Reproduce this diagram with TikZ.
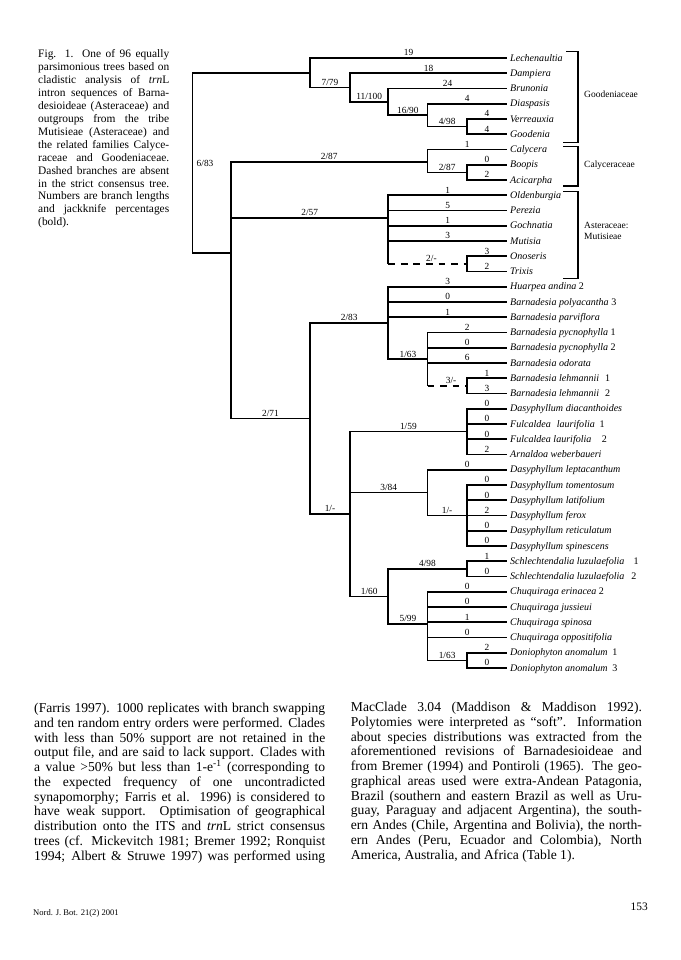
\documentclass[tikz,border=0pt]{standalone}
\usepackage{fontspec}
\setmainfont{Liberation Serif}
\newcommand\leaffont{\fontsize{8.8}{10}\selectfont\itshape}
\newcommand\numfont{\fontsize{8.2}{9}\selectfont}
\newcommand\grpfont{\fontsize{8.3}{9}\selectfont}
\newcommand\capfont{\fontsize{10}{11}\selectfont}
\newcommand\bodyfont{\fontsize{11.9}{13}\selectfont}
\tikzset{
 br/.style={line width=1.55pt},
 brk/.style={line width=1.1pt},
 leaf/.style={anchor=west, inner xsep=2.6pt, inner ysep=0pt, text height=5.6pt, text depth=0pt, font=\leaffont},
 lbl/.style={above, inner sep=1pt, font=\numfont},
 grp/.style={anchor=west, inner sep=0pt, font=\grpfont},
 captxt/.style={anchor=base west, inner sep=0pt, font=\capfont},
 bodytxt/.style={anchor=base west, inner sep=0pt, font=\bodyfont},
 dsh/.style={br, dash pattern=on 6pt off 5pt},
}
\begin{document}
\begin{tikzpicture}[x=0.8755pt,y=-0.8755pt]
\fill[white] (0,0) rectangle (680,960);
\useasboundingbox (0,0) rectangle (680,960);

% ---------- caption ----------
\node[captxt] (c1) at (38,58) {\makebox[114.7pt][s]{Fig. 1. One of 96 equally}};
\node[captxt] (c2) at (38,70.9) {\makebox[114.7pt][s]{parsimonious trees based on}};
\node[captxt] (c3) at (38,83.8) {\makebox[114.7pt][s]{cladistic analysis of \textit{trn}L}};
\node[captxt] (c4) at (38,96.7) {\makebox[114.7pt][s]{intron sequences of Barna-}};
\node[captxt] (c5) at (38,109.6) {\makebox[114.7pt][s]{desioideae (Asteraceae) and}};
\node[captxt] (c6) at (38,122.5) {\makebox[114.7pt][s]{outgroups from the tribe}};
\node[captxt] (c7) at (38,135.4) {\makebox[114.7pt][s]{Mutisieae (Asteraceae) and}};
\node[captxt] (c8) at (38,148.3) {\makebox[114.7pt][s]{the related families Calyce-}};
\node[captxt] (c9) at (38,161.2) {\makebox[114.7pt][s]{raceae and Goodeniaceae.}};
\node[captxt] (c10) at (38,174.1) {\makebox[114.7pt][s]{Dashed branches are absent}};
\node[captxt] (c11) at (38,187) {\makebox[114.7pt][s]{in the strict consensus tree.}};
\node[captxt] (c12) at (38,199.9) {\makebox[114.7pt][s]{Numbers are branch lengths}};
\node[captxt] (c13) at (38,212.8) {\makebox[114.7pt][s]{and jackknife percentages}};
\node[captxt] (c14) at (38,225.7) {(bold).};

% ---------- leaves ----------
\node[leaf] (t0) at (507,58) {Lechenaultia};
\node[leaf] (t1) at (507,73.25) {Dampiera};
\node[leaf] (t2) at (507,88.5) {Brunonia};
\node[leaf] (t3) at (507,103.75) {Diaspasis};
\node[leaf] (t4) at (507,119) {Verreauxia};
\node[leaf] (t5) at (507,134.25) {Goodenia};
\node[leaf] (t6) at (507,149.5) {Calycera};
\node[leaf] (t7) at (507,164.75) {Boopis};
\node[leaf] (t8) at (507,180) {Acicarpha};
\node[leaf] (t9) at (507,195.25) {Oldenburgia};
\node[leaf] (t10) at (507,210.5) {Perezia};
\node[leaf] (t11) at (507,225.75) {Gochnatia};
\node[leaf] (t12) at (507,241) {Mutisia};
\node[leaf] (t13) at (507,256.25) {Onoseris};
\node[leaf] (t14) at (507,271.5) {Trixis};
\node[leaf] (t15) at (507,286.75) {Huarpea andina {\upshape 2}};
\node[leaf] (t16) at (507,302) {Barnadesia polyacantha {\upshape 3}};
\node[leaf] (t17) at (507,317.25) {Barnadesia parviflora};
\node[leaf] (t18) at (507,332.5) {Barnadesia pycnophylla {\upshape 1}};
\node[leaf] (t19) at (507,347.75) {Barnadesia pycnophylla {\upshape 2}};
\node[leaf] (t20) at (507,363) {Barnadesia odorata};
\node[leaf] (t21) at (507,378.25) {Barnadesia lehmannii\hspace{3pt} {\upshape 1}};
\node[leaf] (t22) at (507,393.5) {Barnadesia lehmannii\hspace{3pt} {\upshape 2}};
\node[leaf] (t23) at (507,408.75) {Dasyphyllum diacanthoides};
\node[leaf] (t24) at (507,424) {Fulcaldea\hspace{3pt} laurifolia\hspace{2pt} {\upshape 1}};
\node[leaf] (t25) at (507,439.25) {Fulcaldea laurifolia\hspace{7pt} {\upshape 2}};
\node[leaf] (t26) at (507,454.5) {Arnaldoa weberbaueri};
\node[leaf] (t27) at (507,469.75) {Dasyphyllum leptacanthum};
\node[leaf] (t28) at (507,485) {Dasyphyllum tomentosum};
\node[leaf] (t29) at (507,500.25) {Dasyphyllum latifolium};
\node[leaf] (t30) at (507,515.5) {Dasyphyllum ferox};
\node[leaf] (t31) at (507,530.75) {Dasyphyllum reticulatum};
\node[leaf] (t32) at (507,546) {Dasyphyllum spinescens};
\node[leaf] (t33) at (507,561.25) {Schlechtendalia luzulaefolia\hspace{6pt} {\upshape 1}};
\node[leaf] (t34) at (507,576.5) {Schlechtendalia luzulaefolia\hspace{4pt} {\upshape 2}};
\node[leaf] (t35) at (507,591.75) {Chuquiraga erinacea {\upshape 2}};
\node[leaf] (t36) at (507,607) {Chuquiraga jussieui};
\node[leaf] (t37) at (507,622.25) {Chuquiraga spinosa};
\node[leaf] (t38) at (507,637.5) {Chuquiraga oppositifolia};
\node[leaf] (t39) at (507,652.75) {Doniophyton anomalum\hspace{2pt} {\upshape 1}};
\node[leaf] (t40) at (507,668) {Doniophyton anomalum\hspace{2pt} {\upshape 3}};

% ---------- internal nodes ----------
\coordinate (R) at (192.5,163);
\coordinate (G1) at (310,72.8);
\coordinate (G2) at (350,87.6);
\coordinate (G3) at (388.3,101.9);
\coordinate (G4) at (427.5,115.2);
\coordinate (G5) at (466.7,126.6);
\coordinate (A) at (231,253.3);
\coordinate (C1) at (427.5,162);
\coordinate (C2) at (466.7,172.4);
\coordinate (M1) at (388.3,218.1);
\coordinate (M2) at (466.7,263.9);
\coordinate (B1) at (310,418.5);
\coordinate (B2) at (388.3,323);
\coordinate (B4) at (427.5,359.2);
\coordinate (B5) at (466.7,385.9);
\coordinate (B3) at (350,514);
\coordinate (B6) at (466.7,431.6);
\coordinate (B7) at (427.5,492.6);
\coordinate (B9) at (466.7,515.5);
\coordinate (B8) at (388.3,596.5);
\coordinate (B10) at (466.7,568.9);
\coordinate (B11) at (427.5,624);
\coordinate (B12) at (466.7,660.4);

\node[inner sep=0pt, anchor=west, font=\numfont] (lR) at ([xshift=3.5pt]R) {6/83};

% ---------- branches ----------
\draw[br] (R) |- (G1);
\draw[br] (R) |- (A);
\draw[br] (G1) |- node[lbl,pos=.75]{19} (t0.west);
\draw[br] (G1) |- node[lbl,pos=.75]{7/79} (G2);
\draw[br] (G2) |- node[lbl,pos=.75]{18} (t1.west);
\draw[br] (G2) |- node[lbl,pos=.75]{11/100} (G3);
\draw[br] (G3) |- node[lbl,pos=.75]{24} (t2.west);
\draw[br] (G3) |- node[lbl,pos=.75]{16/90} (G4);
\draw[br] (G4) |- node[lbl,pos=.75]{4} (t3.west);
\draw[br] (G4) |- node[lbl,pos=.75]{4/98} (G5);
\draw[br] (G5) |- node[lbl,pos=.75]{4} (t4.west);
\draw[br] (G5) |- node[lbl,pos=.75]{4} (t5.west);

\draw[br] (A) |- node[lbl,pos=.75]{2/87} (C1);
\draw[br] (A) |- node[lbl,pos=.75]{2/57} (M1);
\draw[br] (A) |- node[lbl,pos=.75]{2/71} (B1);
\draw[br] (C1) |- node[lbl,pos=.75]{1} (t6.west);
\draw[br] (C1) |- node[lbl,pos=.75]{2/87} (C2);
\draw[br] (C2) |- node[lbl,pos=.75]{0} (t7.west);
\draw[br] (C2) |- node[lbl,pos=.75]{2} (t8.west);

\draw[br] (M1) |- node[lbl,pos=.75]{1} (t9.west);
\draw[br] (M1) |- node[lbl,pos=.75]{5} (t10.west);
\draw[br] (M1) |- node[lbl,pos=.75]{1} (t11.west);
\draw[br] (M1) |- node[lbl,pos=.75]{3} (t12.west);
\draw[br] (M1) -- (M1 |- M2);
\draw[dsh] (M1 |- M2) -- node[lbl,pos=.55]{2/-} (M2);
\draw[br] (M2) |- node[lbl,pos=.75]{3} (t13.west);
\draw[br] (M2) |- node[lbl,pos=.75]{2} (t14.west);

\draw[br] (B1) |- node[lbl,pos=.75]{2/83} (B2);
\draw[br] (B1) |- node[lbl,pos=.75]{1/-} (B3);
\draw[br] (B2) |- node[lbl,pos=.75]{3} (t15.west);
\draw[br] (B2) |- node[lbl,pos=.75]{0} (t16.west);
\draw[br] (B2) |- node[lbl,pos=.75]{1} (t17.west);
\draw[br] (B2) |- node[lbl,pos=.75]{1/63} (B4);
\draw[br] (B4) |- node[lbl,pos=.75]{2} (t18.west);
\draw[br] (B4) |- node[lbl,pos=.75]{0} (t19.west);
\draw[br] (B4) |- node[lbl,pos=.75]{6} (t20.west);
\draw[br] (B4) -- (B4 |- B5);
\draw[dsh] (B4 |- B5) -- node[lbl,pos=.6]{3/-} (B5);
\draw[br] (B5) |- node[lbl,pos=.75]{1} (t21.west);
\draw[br] (B5) |- node[lbl,pos=.75]{3} (t22.west);

\draw[br] (B3) |- node[lbl,pos=.75]{1/59} (B6);
\draw[br] (B3) |- node[lbl,pos=.75]{3/84} (B7);
\draw[br] (B3) |- node[lbl,pos=.75]{1/60} (B8);
\draw[br] (B6) |- node[lbl,pos=.75]{0} (t23.west);
\draw[br] (B6) |- node[lbl,pos=.75]{0} (t24.west);
\draw[br] (B6) |- node[lbl,pos=.75]{0} (t25.west);
\draw[br] (B6) |- node[lbl,pos=.75]{2} (t26.west);
\draw[br] (B7) |- node[lbl,pos=.75]{0} (t27.west);
\draw[br] (B7) |- node[lbl,pos=.75]{1/-} (B9);
\draw[br] (B9) |- node[lbl,pos=.75]{0} (t28.west);
\draw[br] (B9) |- node[lbl,pos=.75]{0} (t29.west);
\draw[br] (B9) |- node[lbl,pos=.75]{2} (t30.west);
\draw[br] (B9) |- node[lbl,pos=.75]{0} (t31.west);
\draw[br] (B9) |- node[lbl,pos=.75]{0} (t32.west);
\draw[br] (B8) |- node[lbl,pos=.75]{4/98} (B10);
\draw[br] (B8) |- node[lbl,pos=.75]{5/99} (B11);
\draw[br] (B10) |- node[lbl,pos=.75]{1} (t33.west);
\draw[br] (B10) |- node[lbl,pos=.75]{0} (t34.west);
\draw[br] (B11) |- node[lbl,pos=.75]{0} (t35.west);
\draw[br] (B11) |- node[lbl,pos=.75]{0} (t36.west);
\draw[br] (B11) |- node[lbl,pos=.75]{1} (t37.west);
\draw[br] (B11) |- node[lbl,pos=.75]{0} (t38.west);
\draw[br] (B11) |- node[lbl,pos=.75]{1/63} (B12);
\draw[br] (B12) |- node[lbl,pos=.75]{2} (t39.west);
\draw[br] (B12) |- node[lbl,pos=.75]{0} (t40.west);

% ---------- group brackets ----------
\coordinate (gA) at (566,51.7); \coordinate (gB) at (578,142.5); \coordinate (gC) at (563,142.5);
\draw[brk] (gA) -| (gB) -- (gC);
\coordinate (kA) at (563,146.5); \coordinate (kB) at (578,186); \coordinate (kC) at (563,186);
\draw[brk] (kA) -| (kB) -- (kC);
\coordinate (aA) at (563,191.7); \coordinate (aB) at (578,278.3); \coordinate (aC) at (563,278.3);
\draw[brk] (aA) -| (aB) -- (aC);
\node[grp] (goo) at (584,94.3) {Goodeniaceae};
\node[grp] (caly) at (584,165.7) {Calyceraceae};
\node[grp] (ast) at (584,225) {Asteraceae:};
\node[grp] (mut) at (584,236.7) {Mutisieae};

% ---------- body text, left ----------
\node[bodytxt] (l1) at (34,712.5) {\makebox[254.8pt][s]{(Farris 1997). 1000 replicates with branch swapping}};
\node[bodytxt] (l2) at (34,727.25) {\makebox[254.8pt][s]{and ten random entry orders were performed. Clades}};
\node[bodytxt] (l3) at (34,742) {\makebox[254.8pt][s]{with less than 50\% support are not retained in the}};
\node[bodytxt] (l4) at (34,756.75) {\makebox[254.8pt][s]{output file, and are said to lack support. Clades with}};
\node[bodytxt] (l5) at (34,771.5) {\makebox[254.8pt][s]{a value >50\% but less than 1-e\textsuperscript{-1} (corresponding to}};
\node[bodytxt] (l6) at (34,786.25) {\makebox[254.8pt][s]{the expected frequency of one uncontradicted}};
\node[bodytxt] (l7) at (34,801) {\makebox[254.8pt][s]{synapomorphy; Farris et al. 1996) is considered to}};
\node[bodytxt] (l8) at (34,815.75) {\makebox[254.8pt][s]{have weak support. Optimisation of geographical}};
\node[bodytxt] (l9) at (34,830.5) {\makebox[254.8pt][s]{distribution onto the ITS and \textit{trn}L strict consensus}};
\node[bodytxt] (l10) at (34,845.25) {\makebox[254.8pt][s]{trees (cf. Mickevitch 1981; Bremer 1992; Ronquist}};
\node[bodytxt] (l11) at (34,860) {\makebox[254.8pt][s]{1994; Albert \& Struwe 1997) was performed using}};

% ---------- body text, right ----------
\node[bodytxt] (r1) at (350.7,711.5) {\makebox[254.8pt][s]{MacClade 3.04 (Maddison \& Maddison 1992).}};
\node[bodytxt] (r2) at (350.7,726.25) {\makebox[254.8pt][s]{Polytomies were interpreted as ``soft''. Information}};
\node[bodytxt] (r3) at (350.7,741) {\makebox[254.8pt][s]{about species distributions was extracted from the}};
\node[bodytxt] (r4) at (350.7,755.75) {\makebox[254.8pt][s]{aforementioned revisions of Barnadesioideae and}};
\node[bodytxt] (r5) at (350.7,770.5) {\makebox[254.8pt][s]{from Bremer (1994) and Pontiroli (1965). The geo-}};
\node[bodytxt] (r6) at (350.7,785.25) {\makebox[254.8pt][s]{graphical areas used were extra-Andean Patagonia,}};
\node[bodytxt] (r7) at (350.7,800) {\makebox[254.8pt][s]{Brazil (southern and eastern Brazil as well as Uru-}};
\node[bodytxt] (r8) at (350.7,814.75) {\makebox[254.8pt][s]{guay, Paraguay and adjacent Argentina), the south-}};
\node[bodytxt] (r9) at (350.7,829.5) {\makebox[254.8pt][s]{ern Andes (Chile, Argentina and Bolivia), the north-}};
\node[bodytxt] (r10) at (350.7,844.25) {\makebox[254.8pt][s]{ern Andes (Peru, Ecuador and Colombia), North}};
\node[bodytxt] (r11) at (350.7,859) {America, Australia, and Africa (Table 1).};

% ---------- footer ----------
\node[anchor=base west, inner sep=0pt, font=\fontsize{7.5}{8}\selectfont] (foot) at (33,915) {Nord. J. Bot. 21(2) 2001};
\node[anchor=base east, inner sep=0pt, font=\fontsize{10}{11}\selectfont] (page) at (648,910) {153};
\end{tikzpicture}
\end{document}
